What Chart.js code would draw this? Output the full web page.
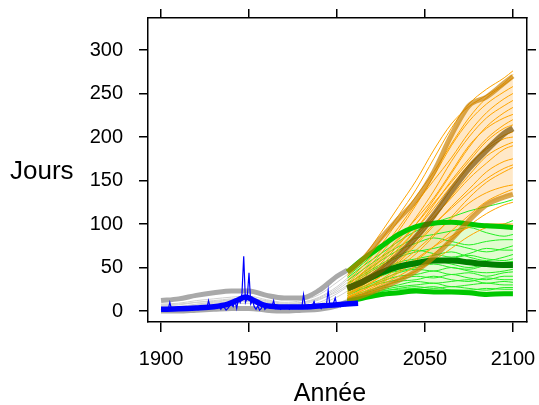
<!DOCTYPE html>
<html><head><meta charset="utf-8">
<script src="https://cdn.jsdelivr.net/npm/chart.js@4/dist/chart.umd.min.js"></script>
<style>html,body{margin:0;padding:0;background:#fff}canvas{display:block}</style>
</head><body>
<canvas id="c" width="539" height="405"></canvas>
<script>
// ---- Data ----
const xTicks = [1900, 1950, 2000, 2050, 2100];
const yTicks = [0, 50, 100, 150, 200, 250, 300];
const xTitle = "Année";
const yTitle = "Jours";

const histYears = [1900,1910,1920,1930,1940,1950,1960,1970,1980,1990,2000,2006];
const grayUpper = [12,14,18,21,23,23,18,15,15,24,40,47];
const grayLower = [0,0,1,2,3,3,1,0,1,2,6,11];
const grayThin = [
  [8,9,12,14,16,17,13,10,12,19,33,42],
  [6,7,10,12,14,15,11,8,10,16,28,38],
  [5,5,7,9,11,13,9,6,8,13,24,33],
  [3,4,6,8,10,11,7,5,6,10,20,28],
  [2,3,4,6,8,9,5,3,4,8,16,23],
  [4,5,8,10,12,12,10,7,9,14,22,30],
  [7,8,10,11,13,14,12,9,10,15,26,36]
];

const obsStart = 1900;
const obsValues = [
  2,1,3,2,1,10,2,1,3,2,
  1,2,3,2,4,2,1,3,2,4,
  3,2,5,3,4,6,3,12,4,5,
  4,6,3,5,2,7,4,1,3,6,
  8,5,12,3,14,10,20,63,10,15,
  44,8,12,5,2,6,1,3,8,2,
  4,6,3,5,12,3,5,4,2,6,
  3,5,4,2,6,3,4,5,3,6,
  4,19,5,3,7,4,6,11,4,5,
  6,3,8,5,7,24,6,5,9,15,
  6,8,5,9,7,6,10,8,7,9,
  8,10,9
];
const obsSmoothYears = [1900,1910,1920,1930,1938,1944,1948,1952,1958,1965,1975,1985,1995,2005,2012];
const obsSmooth = [2,2.5,3.5,5,8,13,16,13,7,5,4.5,5,6.5,8,9];

const projYears = [2006,2015,2025,2035,2045,2055,2065,2075,2085,2095,2100];
const orangeUpper  = [45,60,84,106,128,160,202,236,246,262,270];
const orangeMedian = [26,34,47,64,85,110,138,164,185,204,210];
const orangeLower  = [12,18,26,35,46,62,82,104,122,131,134];
const orangeMembers = [
  [40,58,82,110,140,175,210,238,255,268,276],
  [42,62,90,120,150,185,215,235,248,262,272],
  [35,52,76,104,132,160,192,222,245,260,268],
  [30,45,66,92,122,155,190,218,238,252,258],
  [32,48,70,96,124,150,176,205,228,244,250],
  [28,42,60,82,108,138,172,200,222,236,242],
  [25,38,55,76,100,128,158,188,212,228,234],
  [30,44,62,84,106,130,160,190,210,222,226],
  [22,34,50,70,94,122,150,175,198,214,220],
  [26,40,58,78,100,124,148,172,195,210,214],
  [20,32,48,66,88,112,140,166,188,202,206],
  [24,36,52,72,94,118,144,168,186,198,200],
  [18,30,44,62,82,106,132,156,178,190,194],
  [22,34,48,66,86,108,130,152,170,186,190],
  [16,26,40,56,76,98,120,140,160,172,175],
  [20,30,42,58,78,100,118,136,152,164,168],
  [15,24,36,50,66,86,108,130,148,160,165],
  [18,28,40,54,70,88,106,124,136,143,145],
  [14,22,32,44,58,74,92,110,126,136,140],
  [12,20,30,40,52,66,82,98,112,122,125],
  [16,24,34,46,60,74,86,96,100,100,98],
  [12,18,26,36,46,58,72,86,96,100,100]
];

const greenUpper  = [45,60,74,88,97,101,102,100,98,97,96];
const greenMedian = [26,34,44,51,55,58,58,56,54,53,53];
const greenLower  = [11,15,19,21,23,22,22,21,19,20,20];
const greenMembers = [
  [40,55,72,88,98,102,108,115,120,125,128],
  [38,52,66,80,92,100,104,100,96,100,104],
  [35,48,62,74,84,88,92,96,90,86,88],
  [30,44,58,70,78,84,80,76,80,82,82],
  [28,40,52,62,68,72,76,72,68,72,75],
  [32,42,54,64,70,66,62,66,72,70,70],
  [26,36,46,56,60,64,68,62,58,62,65],
  [24,34,44,52,58,56,60,64,60,58,60],
  [22,32,40,48,54,58,54,50,54,56,57],
  [25,33,42,46,50,54,50,48,52,50,52],
  [20,28,36,44,48,46,50,46,44,46,48],
  [18,26,34,40,42,46,42,44,40,44,45],
  [20,26,32,36,40,38,42,38,36,40,40],
  [16,22,28,34,36,40,36,34,38,36,36],
  [15,20,26,30,34,32,34,36,32,34,33],
  [14,19,24,28,30,32,28,30,32,30,30],
  [12,17,22,26,28,26,28,26,24,27,27],
  [13,18,23,25,26,28,24,24,26,25,25]
];

// ---- Build datasets (listed bottom -> top) ----
const pts = (xs, ys) => ys.map((v, i) => ({x: xs[i], y: v}));
const list = [];
function line(data, color, width, extra) {
  list.push(Object.assign({data, borderColor: color, borderWidth: width, pointRadius: 0,
    fill: false, cubicInterpolationMode: 'monotone', borderCapStyle: 'butt'}, extra || {}));
  return list.length - 1;
}
// bands
let gl = line(pts(projYears, greenLower), 'rgba(0,0,0,0)', 0);
line(pts(projYears, greenUpper), 'rgba(0,0,0,0)', 0, {fill: {target: gl}, backgroundColor: 'rgba(200,250,170,0.55)'});
let ol = line(pts(projYears, orangeLower), 'rgba(0,0,0,0)', 0);
line(pts(projYears, orangeUpper), 'rgba(0,0,0,0)', 0, {fill: {target: ol}, backgroundColor: 'rgba(255,205,130,0.45)'});
// historical gray
grayThin.forEach(m => line(pts(histYears, m), '#d0d0d0', 1));
line(pts(histYears, grayUpper), '#a9a9a9', 5);
line(pts(histYears, grayLower), '#a9a9a9', 5);
// members
greenMembers.forEach(m => line(pts(projYears, m), '#22ee22', 1));
orangeMembers.forEach(m => line(pts(projYears, m), '#ffa500', 1));
// thick green
line(pts(projYears, greenUpper), '#00c800', 5);
line(pts(projYears, greenLower), '#00c800', 5);
line(pts(projYears, greenMedian), '#008000', 6);
// thick orange
line(pts(projYears, orangeUpper), 'rgba(200,128,0,0.68)', 5);
line(pts(projYears, orangeLower), 'rgba(200,128,0,0.68)', 5);
line(pts(projYears, orangeMedian), 'rgba(120,80,0,0.68)', 6);
// observed
line(obsValues.map((v, i) => ({x: obsStart + i, y: v})), '#0000ff', 1.2, {cubicInterpolationMode: 'default', tension: 0});
line(pts(obsSmoothYears, obsSmooth), '#0000ff', 5.5);

const N = list.length;
list.forEach((d, i) => { d.order = N - i; });

const tickFont = {family: '"Liberation Sans", Arial, Helvetica, sans-serif', size: 20};
const axisBase = (pos, tl) => ({
  type: 'linear', position: pos,
  grid: {drawOnChartArea: false, drawTicks: true, tickLength: tl, color: '#000', lineWidth: 1.5},
  border: {display: true, color: '#000', width: 1.5},
});
const fixSize = (prop, val) => s => {
  s[prop] = val;
  s.paddingLeft = 0; s.paddingRight = 0; s.paddingTop = 0; s.paddingBottom = 0;
};

const titles = {
  id: 'titles',
  afterDraw(chart) {
    const ctx = chart.ctx;
    ctx.save();
    ctx.fillStyle = '#000';
    ctx.textBaseline = 'alphabetic';
    ctx.font = '26px "Liberation Sans", Arial, Helvetica, sans-serif';
    ctx.textAlign = 'left';
    ctx.fillText(yTitle, 10, 179);
    ctx.font = '25px "Liberation Sans", Arial, Helvetica, sans-serif';
    ctx.textAlign = 'center';
    ctx.fillText(xTitle, 330, 401);
    ctx.restore();
  }
};

new Chart(document.getElementById('c'), {
  type: 'line',
  data: {datasets: list},
  plugins: [titles],
  options: {
    responsive: false, animation: false, devicePixelRatio: 1,
    layout: {padding: 0},
    plugins: {legend: {display: false}, tooltip: {enabled: false}},
    scales: {
      x: Object.assign(axisBase('bottom', 10), {
        min: 1892.6, max: 2108,
        afterBuildTicks: s => { s.ticks = xTicks.map(v => ({value: v})); },
        ticks: {font: tickFont, color: '#000', padding: 15, maxRotation: 0, autoSkip: false, callback: v => String(v)},
        afterFit: fixSize('height', 83)
      }),
      x2: Object.assign(axisBase('top', 9), {
        min: 1892.6, max: 2108,
        afterBuildTicks: s => { s.ticks = xTicks.map(v => ({value: v})); },
        ticks: {display: false},
        afterFit: fixSize('height', 18)
      }),
      y: Object.assign(axisBase('left', 9), {
        min: -12.6, max: 336.8,
        afterBuildTicks: s => { s.ticks = yTicks.map(v => ({value: v})); },
        ticks: {font: tickFont, color: '#000', padding: 16, autoSkip: false, callback: v => String(v)},
        afterFit: fixSize('width', 148)
      }),
      y2: Object.assign(axisBase('right', 9), {
        min: -12.6, max: 336.8,
        afterBuildTicks: s => { s.ticks = yTicks.map(v => ({value: v})); },
        ticks: {display: false},
        afterFit: fixSize('width', 12)
      })
    }
  }
});
</script>
</body></html>
